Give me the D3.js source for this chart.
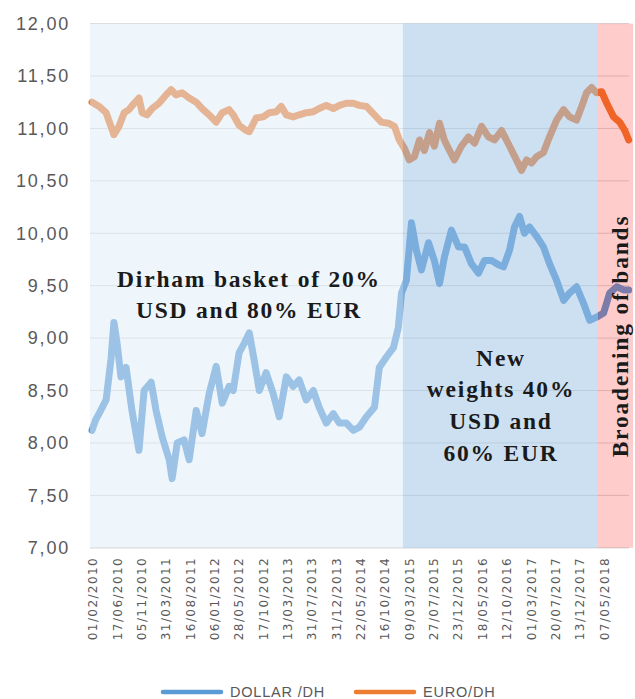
<!DOCTYPE html>
<html>
<head>
<meta charset="utf-8">
<title>Dirham basket</title>
<script src="https://d3js.org/d3.v7.min.js"></script>
<style>
  body { margin: 0; background: #fff; }
  svg { display: block; }
  .ylab { font-family: "Liberation Sans", Arial, sans-serif; font-size: 18px; fill: #595959; letter-spacing: 1.8px; }
  .xlab { font-family: "DejaVu Sans", sans-serif; font-size: 12px; fill: #595959; letter-spacing: 1.4px; }
  .note { font-family: "Liberation Serif", serif; font-weight: bold; font-size: 23.5px; fill: #1a1a1a; letter-spacing: 1.8px; }
  .leg { font-family: "Liberation Sans", Arial, sans-serif; font-size: 14.5px; fill: #595959; letter-spacing: 0.8px; }
</style>
</head>
<body>
<svg width="635" height="699"></svg>
<script>
// x = trading-day index, one category label every 100 days
var dateLabels = ['01/02/2010','17/06/2010','05/11/2010','31/03/2011','16/08/2011','06/01/2012',
  '28/05/2012','17/10/2012','13/03/2013','31/07/2013','31/12/2013','22/05/2014','16/10/2014',
  '09/03/2015','27/07/2015','23/12/2015','18/05/2016','12/10/2016','01/03/2017','20/07/2017',
  '13/12/2017','07/05/2018'];
var labelStep = 100;

var yTicks = [7, 7.5, 8, 8.5, 9, 9.5, 10, 10.5, 11, 11.5, 12];

// [day, value]
var dollarDh = [
  [0,8.12],[15,8.22],[29,8.28],[58,8.41],[78,8.80],[90,9.15],[103,8.95],[119,8.63],[140,8.72],
  [164,8.31],[193,7.93],[214,8.50],[243,8.58],[263,8.31],[288,8.06],[317,7.84],[329,7.66],
  [350,8.00],[378,8.03],[399,7.84],[428,8.31],[452,8.09],[481,8.47],[510,8.73],[535,8.38],
  [563,8.54],[580,8.50],[604,8.86],[625,8.95],[646,9.05],[666,8.79],[687,8.50],[715,8.67],
  [744,8.47],[769,8.25],[798,8.63],[826,8.54],[851,8.60],[880,8.41],[909,8.50],[933,8.34],
  [962,8.19],[991,8.28],[1016,8.19],[1044,8.19],[1073,8.12],[1098,8.15],[1127,8.25],
  [1160,8.34],[1180,8.72],[1209,8.82],[1238,8.91],[1258,9.10],[1271,9.43],[1291,9.55],
  [1312,10.10],[1332,9.84],[1353,9.65],[1382,9.91],[1406,9.74],[1427,9.52],[1447,9.77],
  [1476,10.03],[1505,9.87],[1530,9.87],[1558,9.71],[1587,9.62],[1612,9.74],[1641,9.74],
  [1669,9.70],[1690,9.68],[1715,9.84],[1735,10.06],[1756,10.16],[1776,10.00],[1797,10.06],
  [1826,9.97],[1854,9.87],[1879,9.71],[1908,9.55],[1937,9.36],[1961,9.43],[1990,9.49],
  [2019,9.33],[2044,9.17],[2072,9.20],[2101,9.24],[2126,9.43],[2155,9.49],[2183,9.46],[2204,9.46]
];

var euroDh = [
  [0,11.25],[29,11.21],[58,11.15],[78,11.02],[90,10.94],[111,11.02],[132,11.15],[152,11.18],
  [173,11.24],[193,11.29],[206,11.15],[226,11.13],[247,11.19],[275,11.24],[304,11.32],
  [325,11.37],[345,11.32],[370,11.34],[399,11.29],[428,11.25],[452,11.19],[481,11.13],
  [510,11.06],[535,11.15],[563,11.18],[580,11.13],[604,11.03],[633,10.98],[646,10.97],
  [674,11.10],[703,11.11],[728,11.15],[757,11.16],[777,11.21],[798,11.13],[826,11.11],
  [851,11.13],[880,11.15],[909,11.16],[933,11.19],[962,11.22],[991,11.19],[1016,11.22],
  [1044,11.24],[1073,11.24],[1098,11.22],[1127,11.21],[1160,11.13],[1188,11.06],[1217,11.05],
  [1242,11.02],[1262,10.89],[1283,10.81],[1303,10.70],[1324,10.73],[1345,10.89],[1365,10.79],
  [1386,10.96],[1406,10.83],[1427,11.05],[1447,10.89],[1468,10.79],[1488,10.70],[1517,10.83],
  [1546,10.92],[1571,10.86],[1600,11.02],[1628,10.92],[1653,10.89],[1682,10.98],[1715,10.83],
  [1743,10.70],[1764,10.60],[1785,10.70],[1805,10.67],[1826,10.73],[1854,10.77],[1879,10.92],
  [1908,11.08],[1937,11.18],[1961,11.11],[1990,11.08],[2011,11.21],[2031,11.34],[2052,11.39],
  [2072,11.34],[2093,11.35],[2114,11.24],[2142,11.11],[2167,11.06],[2188,10.98],[2204,10.89]
];

// regimes (start day, end day)
var regimeDays = [[-8, 1277], [1277, 2078], [2078, 2222]];
var regimeFill = ['#DDEBF7', '#9BC2E6', '#FF0000'];
var regimeAlpha = [0.5, 0.5, 0.2];

var svg = d3.select('svg');

var x = d3.scaleLinear().domain([0, 2200]).range([92, 627.7]);
var y = d3.scaleLinear().domain([7, 12]).range([547.8, 23.6]);
var plotLeft = 90, plotRight = 629;

// gridlines
svg.append('g').selectAll('line')
  .data(yTicks.slice(1))
  .enter().append('line')
  .attr('x1', plotLeft).attr('x2', plotRight)
  .attr('y1', d => y(d)).attr('y2', d => y(d))
  .attr('stroke', '#D9D9D9').attr('stroke-width', 1);

svg.append('line')
  .attr('x1', plotLeft).attr('x2', plotRight)
  .attr('y1', y(7)).attr('y2', y(7))
  .attr('stroke', '#D9D9D9').attr('stroke-width', 1.2);

// y labels
svg.append('g').selectAll('text')
  .data(yTicks)
  .enter().append('text')
  .attr('class', 'ylab')
  .attr('x', 70)
  .attr('y', d => y(d))
  .attr('dy', '0.35em')
  .attr('text-anchor', 'end')
  .text(d => d3.format('.2f')(d).replace('.', ','));

// x labels
svg.append('g').selectAll('text')
  .data(dateLabels)
  .enter().append('text')
  .attr('class', 'xlab')
  .attr('transform', (d, i) => `translate(${x(i * labelStep) + 1},557) rotate(-90)`)
  .attr('dy', '0.35em')
  .attr('text-anchor', 'end')
  .text(d => d);

// series
var line = d3.line().x(d => x(d[0])).y(d => y(d[1])).curve(d3.curveLinear);

svg.append('path').datum(dollarDh)
  .attr('d', line).attr('fill', 'none')
  .attr('stroke', '#5B9BD5').attr('stroke-width', 7)
  .attr('stroke-linejoin', 'round').attr('stroke-linecap', 'round');

svg.append('path').datum(euroDh)
  .attr('d', line).attr('fill', 'none')
  .attr('stroke', '#ED7D31').attr('stroke-width', 7)
  .attr('stroke-linejoin', 'round').attr('stroke-linecap', 'round');

// translucent regime shading over the lines
svg.append('g').selectAll('rect')
  .data(regimeDays)
  .enter().append('rect')
  .attr('x', d => x(d[0]))
  .attr('width', d => x(d[1]) - x(d[0]))
  .attr('y', y(12))
  .attr('height', y(7) - y(12))
  .attr('fill', (d, i) => regimeFill[i])
  .attr('fill-opacity', (d, i) => regimeAlpha[i]);

// annotations
var notes = svg.append('g').attr('class', 'note').attr('text-anchor', 'middle');
notes.append('text').attr('x', 249).attr('y', 287).text('Dirham basket of 20%');
notes.append('text').attr('x', 249).attr('y', 318).text('USD and 80% EUR');
notes.append('text').attr('x', 501).attr('y', 366).text('New');
notes.append('text').attr('x', 501).attr('y', 397).text('weights 40%');
notes.append('text').attr('x', 501).attr('y', 429).text('USD and');
notes.append('text').attr('x', 501).attr('y', 461).text('60% EUR');
notes.append('text').attr('transform', 'translate(628,336) rotate(-90)').text('Broadening of bands');

// legend
var legend = svg.append('g');
var legItems = [
  {name: 'DOLLAR /DH', color: '#5B9BD5', x0: 163},
  {name: 'EURO/DH', color: '#ED7D31', x0: 356}
];
legItems.forEach(function(d) {
  legend.append('line')
    .attr('x1', d.x0).attr('x2', d.x0 + 58)
    .attr('y1', 692).attr('y2', 692)
    .attr('stroke', d.color).attr('stroke-width', 4.5)
    .attr('stroke-linecap', 'round');
  legend.append('text')
    .attr('class', 'leg')
    .attr('x', d.x0 + 67).attr('y', 697)
    .text(d.name);
});
</script>
</body>
</html>
